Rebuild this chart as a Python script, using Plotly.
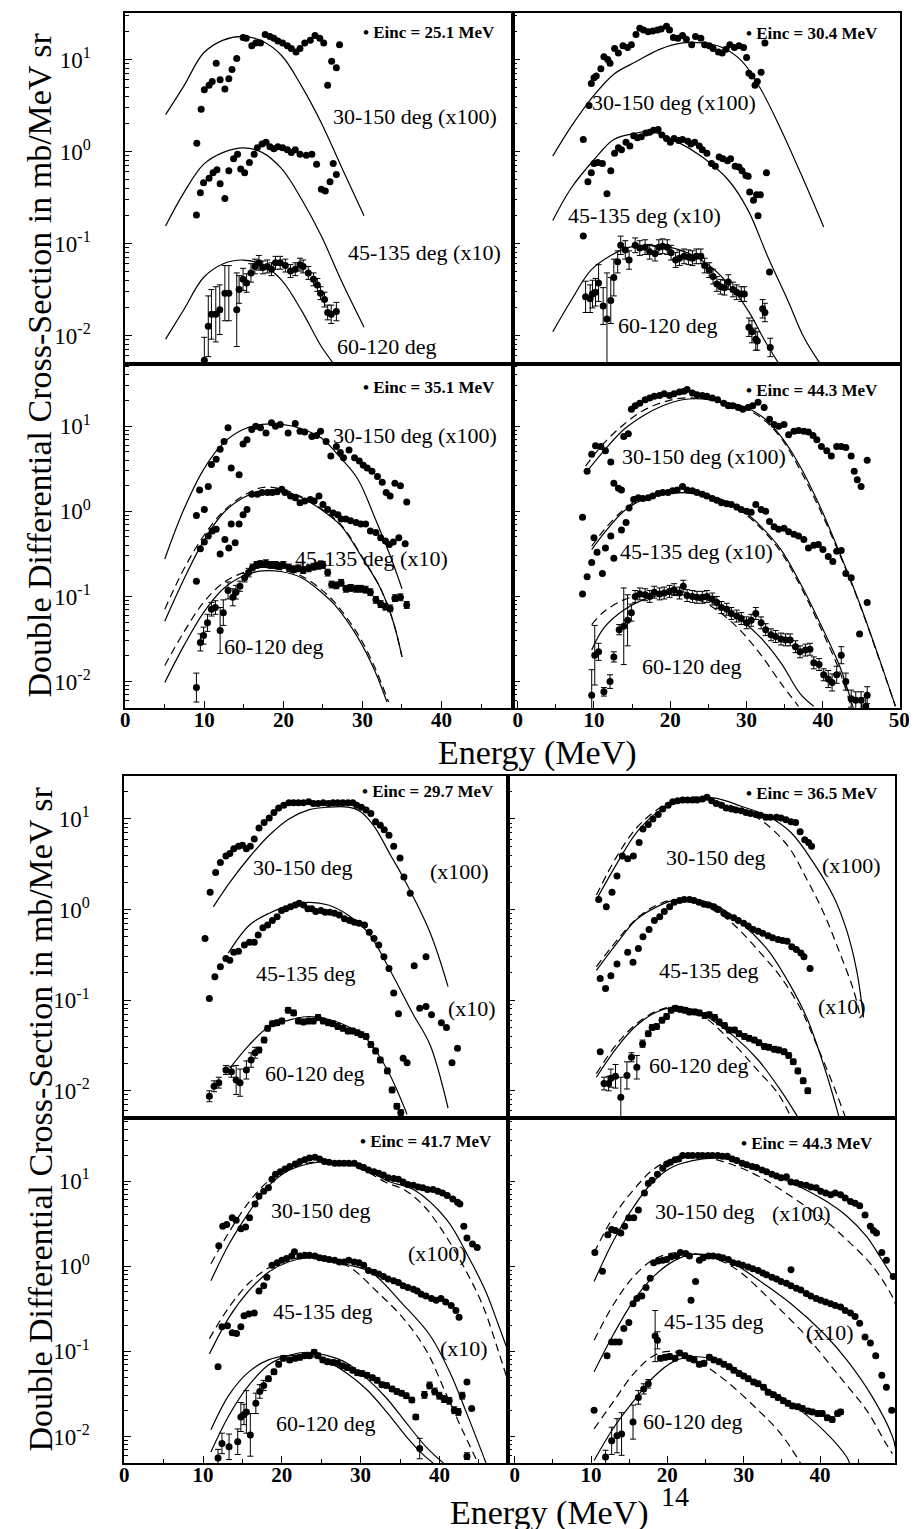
import numpy as np
import plotly.graph_objects as go

W, H = 917, 1529
SERIF = "Liberation Serif, Times New Roman, serif"

# ---------------- DATA ----------------
# Energies in MeV; values are log10 of the plotted cross-section (mb/MeV sr, already scaled x100 / x10)
# a = 30-150 deg (x100), b = 45-135 deg (x10), c = 60-120 deg (with error bars, half-width in decades)

# Panel TL : Einc = 25.1 MeV
tl_a_E = [9.05,9.6,10.0,10.6,11.0,11.5,12.0,12.6,13.1,13.5,14.1,14.9,15.3,16.0,16.5,17.1,17.7,18.3,18.8,19.3,19.9,20.5,21.0,21.6,22.1,22.7,23.4,24.0,24.6,25.1,25.6,26.1,26.7,27.1]
tl_a_L = [0.09,0.46,0.67,0.72,0.76,0.96,0.78,0.68,0.79,0.89,1.01,1.24,1.23,1.15,1.18,1.18,1.27,1.25,1.23,1.20,1.18,1.15,1.12,1.08,1.12,1.18,1.21,1.26,1.23,1.18,0.72,0.98,0.91,1.16]
tl_b_E = [9.0,9.5,9.9,10.6,11.1,11.6,12.0,12.6,13.1,13.7,14.2,14.6,15.1,15.7,16.3,16.7,17.3,17.8,18.3,18.8,19.3,19.9,20.5,21.0,21.5,22.1,22.9,23.6,24.2,24.8,25.3,25.9,26.3,26.7]
tl_b_L = [-0.69,-0.45,-0.34,-0.29,-0.23,-0.20,-0.35,-0.51,-0.21,-0.08,-0.03,-0.19,-0.23,-0.12,-0.03,0.04,0.08,0.10,0.05,0.03,0.05,0.04,0.02,-0.01,0.02,-0.03,-0.04,-0.03,-0.14,-0.41,-0.43,-0.33,-0.13,-0.25]
tl_c_E = [10.0,10.5,10.9,11.45,11.95,12.6,13.1,14.1,14.4,14.9,15.35,15.9,16.4,16.9,17.4,17.97,18.5,19.0,19.6,20.25,20.9,21.5,22.1,22.5,23.15,23.8,24.3,24.7,25.2,25.6,26.05,26.7]
tl_c_L = [-2.27,-1.90,-1.77,-1.77,-1.72,-1.54,-1.54,-1.72,-1.50,-1.39,-1.43,-1.32,-1.25,-1.21,-1.26,-1.25,-1.28,-1.21,-1.21,-1.24,-1.30,-1.28,-1.23,-1.25,-1.32,-1.39,-1.45,-1.54,-1.61,-1.75,-1.77,-1.74]
tl_c_err = [0.25,0.33,0.27,0.30,0.27,0.30,0.30,0.40,0.15,0.12,0.10,0.10,0.08,0.08,0.07,0.07,0.07,0.07,0.07,0.07,0.07,0.07,0.07,0.07,0.07,0.07,0.07,0.07,0.08,0.08,0.10,0.10]
tl_fa_E = [5.1,7.4,9.9,12.4,14.9,17.3,19.8,22.3,24.8,27.3,30.2]
tl_fa_L = [0.40,0.71,1.07,1.21,1.25,1.20,1.04,0.71,0.31,-0.16,-0.70]
tl_fb_E = [5.1,7.4,9.9,12.4,14.9,17.3,19.8,22.3,24.8,27.3,30.2]
tl_fb_L = [-0.81,-0.45,-0.14,-0.01,0.04,-0.01,-0.19,-0.52,-0.92,-1.40,-1.91]
tl_fc_E = [5.1,7.4,9.9,12.4,14.9,17.3,19.8,22.3,24.8,26.3]
tl_fc_L = [-2.04,-1.72,-1.37,-1.22,-1.18,-1.23,-1.40,-1.73,-2.12,-2.30]

# Panel TR : Einc = 30.4 MeV
tr_a_E = [9.35,9.65,10.0,10.3,10.9,11.3,11.8,12.1,12.7,13.2,13.8,14.4,14.9,15.5,16.0,16.5,17.1,17.7,18.3,18.8,19.5,19.9,20.4,21.0,21.6,22.1,22.8,23.3,24.0,24.5,25.1,25.6,26.3,26.8,27.3,27.8,28.4,29.0,29.6,30.0,30.3,30.7,31.1,31.4,31.9,32.4]
tr_a_L = [0.50,0.74,0.80,0.82,0.90,1.03,1.00,0.96,1.12,1.07,1.15,1.13,1.16,1.27,1.34,1.32,1.30,1.31,1.32,1.33,1.36,1.32,1.24,1.23,1.26,1.22,1.16,1.25,1.23,1.16,1.15,1.12,1.08,1.07,1.11,1.16,1.13,1.15,1.13,1.02,0.85,0.82,0.72,0.76,0.86,1.18]
tr_b_E = [8.6,8.6,9.2,9.65,10.0,10.5,11.1,11.7,12.2,12.7,13.2,13.6,14.2,14.7,15.2,15.7,16.2,16.8,17.3,17.8,18.4,18.9,19.5,20.0,20.5,21.1,21.6,22.3,22.7,23.2,23.8,24.2,24.8,25.4,25.9,26.4,26.9,27.5,27.9,28.5,29.0,29.4,29.9,30.2,30.4,30.9,31.3,31.8,31.5,32.6,33.0]
tr_b_L = [0.13,-0.92,-0.33,-0.23,-0.13,-0.12,-0.13,-0.46,-0.21,-0.02,0.04,0.02,0.10,0.06,0.17,0.15,0.16,0.20,0.21,0.23,0.24,0.18,0.14,0.10,0.14,0.12,0.13,0.11,0.08,0.10,0.06,0.02,-0.02,-0.13,-0.16,-0.06,-0.08,-0.10,-0.08,-0.16,-0.17,-0.21,-0.26,-0.27,-0.44,-0.53,-0.47,-0.47,-0.70,-0.23,-1.31]
tr_c_E = [8.9,9.5,9.8,10.2,10.6,11.2,11.7,12.2,12.6,13.1,13.5,14.1,14.6,15.4,16.0,16.7,17.3,18.0,18.5,19.0,19.6,20.1,20.7,21.2,21.8,22.4,22.9,23.4,24.0,24.5,25.1,25.6,26.1,26.6,27.1,27.6,28.2,28.7,29.3,29.7,30.3,30.7,31.2,31.4,32.1,32.4,33.1]
tr_c_L = [-1.58,-1.60,-1.55,-1.53,-1.43,-1.68,-1.82,-1.62,-1.37,-1.20,-1.02,-1.07,-1.18,-1.02,-1.05,-1.04,-1.09,-1.11,-1.04,-1.03,-1.04,-1.10,-1.18,-1.16,-1.14,-1.15,-1.16,-1.14,-1.14,-1.24,-1.29,-1.36,-1.44,-1.47,-1.48,-1.42,-1.50,-1.53,-1.55,-1.55,-1.91,-1.96,-2.04,-2.06,-1.71,-1.75,-2.13]
tr_c_err = [0.17,0.15,0.15,0.15,0.20,0.20,0.50,0.25,0.20,0.12,0.10,0.10,0.10,0.08,0.08,0.08,0.08,0.08,0.08,0.08,0.08,0.08,0.08,0.08,0.08,0.08,0.08,0.08,0.08,0.08,0.08,0.08,0.08,0.08,0.08,0.08,0.08,0.08,0.08,0.08,0.10,0.12,0.12,0.10,0.10,0.10,0.10]
tr_fa_E = [4.6,7.0,9.6,12.6,15.6,18.6,21.6,24.2,26.8,29.4,31.9,34.5,37.1,40.1]
tr_fa_L = [-0.05,0.27,0.57,0.84,0.98,1.11,1.18,1.18,1.13,0.98,0.67,0.24,-0.24,-0.82]
tr_fb_E = [4.6,7.0,10.0,12.6,15.6,17.3,20.8,24.2,27.6,30.2,32.8,35.4,37.5,39.5]
tr_fb_L = [-0.75,-0.40,-0.09,0.13,0.20,0.22,0.11,-0.06,-0.31,-0.64,-1.15,-1.62,-2.02,-2.29]
tr_fc_E = [4.6,7.0,9.6,12.2,14.7,17.3,19.9,22.5,25.1,27.6,30.2,32.4,34.1]
tr_fc_L = [-1.96,-1.62,-1.29,-1.13,-1.04,-1.02,-1.04,-1.11,-1.24,-1.44,-1.73,-2.06,-2.29]

# Panel ML : Einc = 35.1 MeV
ml_a_E = [9.4,10.5,10.9,11.5,12.0,12.5,13.0,13.4,14.4,14.9,15.4,16.0,16.5,17.1,17.8,18.5,19.0,19.6,20.6,21.5,22.1,22.7,23.6,24.2,24.7,25.4,26.0,26.7,27.2,27.6,28.3,29.0,29.6,30.1,30.6,31.2,31.9,32.5,33.0,33.5,34.1,34.8,35.6]
ml_a_L = [0.25,0.29,0.55,0.61,0.73,0.82,0.98,0.51,0.43,0.79,0.84,0.96,1.00,0.98,0.92,1.04,1.00,1.02,0.92,1.03,0.94,0.93,0.88,0.89,0.94,0.82,0.65,0.76,0.69,0.63,0.72,0.63,0.59,0.54,0.51,0.47,0.41,0.34,0.22,0.18,0.33,0.30,0.11]
ml_b_E = [9.0,9.0,10.0,9.5,10.0,10.5,11.0,11.5,12.0,12.6,13.1,13.4,13.9,14.4,14.9,15.4,16.0,16.7,17.3,18.0,18.6,19.2,19.8,20.2,20.9,21.5,22.1,22.7,23.4,23.9,24.5,25.0,25.6,26.3,26.9,27.3,27.9,28.5,29.2,29.8,30.4,31.0,31.7,32.3,32.9,33.4,33.9,34.6,35.4]
ml_b_L = [-0.82,-0.05,0.02,-0.44,-0.36,-0.29,-0.23,-0.21,-0.50,-0.33,-0.43,-0.15,-0.37,-0.15,-0.04,0.02,0.20,0.20,0.22,0.22,0.22,0.23,0.26,0.22,0.18,0.16,0.10,0.12,0.14,0.12,0.18,0.08,0.02,-0.02,-0.04,-0.09,-0.09,-0.11,-0.13,-0.15,-0.15,-0.23,-0.25,-0.31,-0.35,-0.39,-0.36,-0.31,-0.38]
ml_c_E = [9.0,9.5,9.9,10.4,10.9,11.4,12.0,12.4,13.0,13.6,14.0,14.5,15.1,15.6,16.1,16.6,17.1,17.8,18.4,19.0,19.5,20.0,20.7,21.3,21.9,22.5,23.2,23.8,24.4,25.0,25.6,26.1,26.7,27.3,27.9,28.5,29.2,29.8,30.4,31.0,31.7,32.3,32.9,33.5,34.1,34.8,35.6]
ml_c_L = [-2.07,-1.54,-1.46,-1.31,-1.15,-1.13,-1.40,-1.19,-0.93,-1.01,-0.95,-0.88,-0.78,-0.72,-0.66,-0.63,-0.62,-0.61,-0.63,-0.63,-0.64,-0.63,-0.66,-0.68,-0.67,-0.69,-0.67,-0.65,-0.64,-0.63,-0.72,-0.86,-0.87,-0.84,-0.91,-0.90,-0.91,-0.91,-0.92,-0.95,-1.04,-1.09,-1.12,-1.14,-1.02,-1.01,-1.10]
ml_c_err = [0.17,0.10,0.10,0.10,0.08,0.08,0.27,0.15,0.10,0.10,0.08,0.06,0.05,0.05,0.04,0.04,0.04,0.04,0.04,0.04,0.04,0.04,0.04,0.04,0.04,0.04,0.04,0.04,0.04,0.04,0.04,0.04,0.04,0.04,0.04,0.04,0.04,0.04,0.04,0.04,0.04,0.04,0.04,0.04,0.04,0.04,0.04]
ml_fa_E = [5.0,7.4,9.9,12.4,14.9,17.3,19.8,22.3,24.8,27.3,29.4,31.5,33.5,35.0]
ml_fa_L = [-0.56,0.02,0.49,0.80,0.96,1.02,1.02,0.97,0.86,0.62,0.38,-0.06,-0.52,-0.91]
ml_fb_E = [5.0,7.4,9.9,12.4,14.9,17.3,19.8,22.3,24.8,27.3,29.8,32.3,33.9,35.0]
ml_fb_L = [-1.29,-0.80,-0.35,-0.02,0.16,0.24,0.24,0.16,0.02,-0.17,-0.52,-0.91,-1.30,-1.71]
ml_fb2_L = [-1.15,-0.68,-0.29,0.00,0.18,0.28,0.26,0.17,0.03,-0.16,-0.51,-0.91,-1.30,-1.71]
ml_fc_E = [5.0,7.4,9.9,12.4,14.9,17.3,19.8,22.3,24.8,26.5,29.4,31.5,33.1]
ml_fc_L = [-2.01,-1.58,-1.19,-0.91,-0.76,-0.70,-0.71,-0.78,-0.95,-1.10,-1.48,-1.86,-2.24]
ml_fc2_E = [5.0,7.4,9.9,12.4,14.9,17.3,19.8,22.3,24.8,26.5,29.4,31.5,33.3]
ml_fc2_L = [-1.81,-1.42,-1.07,-0.84,-0.72,-0.66,-0.69,-0.76,-0.92,-1.07,-1.44,-1.82,-2.24]

# Panel MR : Einc = 44.3 MeV
mr_a_E = [9.1,9.7,10.2,10.9,11.5,12.2,12.6,13.2,13.6,13.9,14.5,14.9,15.4,16.0,16.7,17.3,17.9,18.6,19.2,19.9,20.5,21.2,21.8,22.2,22.9,23.5,24.2,24.8,25.5,26.2,27.0,27.6,28.2,28.9,29.5,30.2,30.8,31.5,32.3,33.0,33.6,34.2,34.9,35.5,36.2,36.8,37.5,38.1,38.7,39.2,39.8,40.5,41.1,41.8,42.4,43.0,43.7,44.1,44.5,45.0,45.8]
mr_a_L = [0.47,0.67,0.77,0.76,0.71,0.58,0.33,0.27,0.25,0.88,0.91,1.20,1.24,1.27,1.31,1.33,1.35,1.36,1.38,1.36,1.38,1.40,1.41,1.43,1.39,1.37,1.36,1.35,1.33,1.31,1.27,1.24,1.24,1.22,1.20,1.22,1.24,1.28,1.22,1.08,1.02,1.00,1.02,0.90,0.94,0.95,0.94,0.93,0.89,0.84,0.76,0.71,0.65,0.76,0.76,0.75,0.65,0.47,0.37,0.29,0.60]
mr_b_E = [8.5,8.5,9.1,9.7,10.0,10.4,11.1,11.5,12.2,12.6,13.6,14.2,14.6,15.2,15.8,16.4,17.1,17.7,18.4,19.0,19.7,20.3,20.9,21.6,22.2,22.9,23.5,24.2,24.8,25.5,26.1,26.7,27.4,28.0,28.7,29.3,30.0,30.6,31.2,31.9,32.5,33.0,33.6,34.2,34.9,35.5,36.2,36.8,37.5,38.1,38.8,39.4,40.0,40.7,41.3,41.8,42.4,43.0,43.7,44.8,45.8]
mr_b_L = [-0.07,-0.97,-0.77,-0.60,-0.31,-0.48,-0.73,-0.43,-0.29,-0.55,-0.22,-0.13,0.04,0.14,0.16,0.15,0.16,0.18,0.21,0.22,0.22,0.24,0.25,0.29,0.25,0.24,0.22,0.20,0.18,0.15,0.13,0.10,0.09,0.08,0.05,0.02,0.00,-0.01,0.08,0.02,0.00,-0.12,-0.18,-0.21,-0.20,-0.24,-0.27,-0.29,-0.33,-0.43,-0.40,-0.39,-0.45,-0.53,-0.59,-0.47,-0.46,-0.73,-0.78,-1.44,-1.07]
mr_c_E = [9.7,10.1,10.6,11.3,12.1,12.6,13.3,13.9,14.4,14.9,15.4,16.0,16.7,17.3,17.9,18.6,19.2,19.9,20.5,21.2,21.7,22.2,22.9,23.5,24.2,24.8,25.5,26.1,26.7,27.4,28.0,28.7,29.3,30.0,30.6,31.2,31.9,32.5,33.2,33.8,34.5,35.1,35.7,36.4,37.0,37.7,38.3,38.8,39.5,40.1,40.7,41.2,41.8,42.4,43.0,43.7,44.3,45.0,45.6,45.8]
mr_c_L = [-2.16,-1.69,-1.65,-2.12,-2.00,-1.71,-1.39,-1.35,-1.28,-1.19,-1.00,-0.97,-0.98,-1.00,-0.95,-0.97,-0.96,-0.94,-0.92,-0.96,-0.88,-0.99,-1.00,-1.01,-1.01,-1.00,-1.03,-1.07,-1.13,-1.15,-1.20,-1.23,-1.26,-1.31,-1.28,-1.20,-1.31,-1.39,-1.45,-1.47,-1.50,-1.51,-1.51,-1.59,-1.65,-1.63,-1.62,-1.78,-1.80,-1.92,-1.97,-2.01,-1.92,-1.69,-2.00,-2.20,-2.22,-2.22,-2.29,-2.16]
mr_c_err = [0.30,0.35,0.10,0.05,0.08,0.06,0.06,0.45,0.30,0.10] + [0.07] * 40 + [0.10] * 10
mr_fa_E = [8.9,11.3,13.9,16.4,19.0,21.6,24.2,26.7,29.3,31.9,34.5,37.0,39.6,42.2,44.8,47.3,49.5]
mr_fa_L = [0.45,0.71,0.96,1.12,1.24,1.31,1.32,1.29,1.24,1.12,0.88,0.53,0.06,-0.49,-1.08,-1.71,-2.29]
mr_fa2_L = [0.53,0.80,1.02,1.18,1.28,1.33,1.32,1.28,1.22,1.10,0.86,0.49,0.02,-0.51,-1.09,-1.72,-2.29]
mr_fb_E = [9.7,11.3,13.9,16.4,19.0,21.6,24.2,26.7,29.3,31.9,34.5,37.0,39.6,42.2,43.9]
mr_fb_L = [-0.45,-0.26,0.00,0.14,0.20,0.22,0.20,0.14,0.02,-0.18,-0.45,-0.84,-1.31,-1.82,-2.29]
mr_fb2_L = [-0.41,-0.22,0.02,0.16,0.21,0.22,0.19,0.12,0.00,-0.20,-0.48,-0.87,-1.35,-1.88,-2.36]
mr_fc_E = [9.7,11.3,13.9,16.4,19.0,21.6,24.2,26.7,29.3,31.9,34.5,37.0,38.8]
mr_fc_L = [-1.63,-1.37,-1.16,-1.04,-0.98,-0.98,-1.02,-1.12,-1.28,-1.49,-1.78,-2.14,-2.29]
mr_fc2_E = [9.7,11.3,13.9,16.4,19.0,21.6,24.2,26.7,29.3,31.9,34.5,36.8]
mr_fc2_L = [-1.33,-1.18,-1.04,-0.98,-0.96,-0.99,-1.06,-1.20,-1.41,-1.69,-2.02,-2.29]

# Panel BTL : Einc = 29.7 MeV
btl_a_E = [10.9,11.6,12.2,12.9,13.4,13.9,14.5,15.0,15.5,16.0,16.5,17.1,17.75,18.4,19.0,19.6,20.25,20.9,21.5,22.1,22.75,23.4,24.0,24.6,25.25,25.9,26.5,27.1,27.75,28.4,29.0,29.5,30.1,30.7,31.3,31.9,32.5,33.0,33.6,34.2,35.0,35.5,36.3,36.8,38.3]
btl_a_L = [0.19,0.41,0.52,0.59,0.62,0.67,0.70,0.71,0.67,0.70,0.78,0.90,0.96,1.01,1.07,1.12,1.15,1.18,1.18,1.18,1.18,1.19,1.17,1.17,1.18,1.17,1.18,1.18,1.18,1.18,1.18,1.15,1.13,1.10,1.06,0.97,0.93,0.88,0.82,0.70,0.57,0.36,0.18,-0.62,-0.52]
btl_b_E = [10.25,10.8,11.5,12.2,12.9,13.4,13.9,14.5,15.25,15.9,16.5,17.0,17.6,18.2,18.8,19.4,19.96,20.5,21.1,21.7,22.2,22.75,23.3,23.8,24.3,24.96,25.5,26.1,26.7,27.3,27.96,28.6,29.2,29.8,30.5,31.1,31.7,32.3,32.96,33.6,34.2,34.8,35.4,35.9,37.5,38.3,39.0,40.25,40.9,41.6,42.3]
btl_b_L = [-0.32,-0.98,-0.74,-0.63,-0.54,-0.56,-0.47,-0.46,-0.39,-0.36,-0.36,-0.28,-0.20,-0.17,-0.12,-0.08,-0.01,0.01,0.03,0.05,0.07,0.05,0.01,0.01,-0.02,-0.01,-0.03,-0.03,-0.04,-0.06,-0.10,-0.12,-0.14,-0.15,-0.17,-0.25,-0.32,-0.39,-0.52,-0.65,-0.92,-1.15,-1.64,-1.69,-1.09,-1.07,-1.16,-1.25,-1.30,-1.69,-1.53]
btl_c_E = [10.8,11.4,12.0,12.9,13.6,14.2,14.7,15.5,16.1,16.6,17.1,17.75,18.2,18.8,19.4,20.0,20.8,21.5,22.1,22.75,23.4,24.0,24.6,25.25,25.9,26.5,27.1,27.75,28.4,29.0,29.6,30.1,30.7,31.3,31.9,32.5,33.4,34.0,34.6,35.1]
btl_c_L = [-2.06,-1.95,-1.91,-1.77,-1.79,-1.88,-1.91,-1.77,-1.66,-1.58,-1.55,-1.44,-1.31,-1.26,-1.25,-1.23,-1.11,-1.14,-1.23,-1.24,-1.23,-1.23,-1.19,-1.23,-1.25,-1.26,-1.29,-1.31,-1.34,-1.34,-1.36,-1.38,-1.40,-1.49,-1.56,-1.66,-1.78,-1.99,-2.17,-2.24]
btl_c_err = [0.06,0.06,0.06,0.05,0.06,0.16,0.15,0.10,0.08,0.06] + [0.03] * 30
btl_fa_E = [11.3,13.4,15.9,18.4,20.9,23.4,25.9,28.4,30.0,31.7,33.8,35.5,38.8,41.1]
btl_fa_L = [0.03,0.30,0.58,0.82,1.00,1.10,1.13,1.13,1.08,0.92,0.60,0.34,-0.25,-0.85]
btl_fb_E = [13.2,15.9,18.4,20.9,23.4,25.9,28.4,30.9,33.8,36.7,38.8,41.1]
btl_fb_L = [-0.48,-0.17,-0.04,0.04,0.08,0.05,-0.06,-0.25,-0.68,-1.16,-1.49,-2.19]
btl_fc_E = [13.4,15.9,18.4,20.9,23.4,25.9,28.4,30.9,33.4,35.9]
btl_fc_L = [-1.75,-1.49,-1.29,-1.22,-1.18,-1.21,-1.29,-1.44,-1.77,-2.26]

# Panel BTR : Einc = 36.5 MeV
btr_a_E = [11.0,12.0,12.75,13.4,14.1,14.8,15.55,16.3,16.8,17.5,18.1,18.8,19.4,20.1,20.7,21.35,22.0,22.65,23.3,23.9,24.6,25.2,25.8,26.4,27.1,27.7,28.4,29.0,29.7,30.3,30.9,31.6,32.2,32.9,33.5,34.3,34.9,35.55,36.2,36.8,37.4,38.0,38.5,38.9]
btr_a_L = [0.11,0.03,0.19,0.37,0.59,0.56,0.59,0.74,0.89,0.94,1.00,1.05,1.11,1.15,1.19,1.20,1.21,1.21,1.21,1.21,1.22,1.24,1.20,1.17,1.15,1.12,1.11,1.10,1.09,1.07,1.06,1.05,1.04,1.02,1.02,1.02,1.01,0.99,0.97,0.96,0.86,0.77,0.74,0.70]
btr_b_E = [11.2,11.9,12.6,13.4,14.8,15.5,16.2,16.8,17.6,18.3,19.0,19.6,20.3,20.9,21.6,22.2,22.9,23.5,24.15,24.8,25.4,26.1,26.7,27.4,28.0,28.7,29.3,30.0,30.6,31.25,31.9,32.5,33.2,33.8,34.5,35.1,35.7,36.3,36.9,37.5,37.9,38.7]
btr_b_L = [-0.76,-0.87,-0.73,-0.60,-0.47,-0.58,-0.43,-0.30,-0.22,-0.12,-0.08,-0.02,0.03,0.08,0.10,0.11,0.11,0.10,0.08,0.06,0.05,0.03,0.00,-0.04,-0.07,-0.09,-0.12,-0.15,-0.18,-0.22,-0.24,-0.26,-0.29,-0.31,-0.33,-0.34,-0.35,-0.41,-0.44,-0.48,-0.52,-0.65]
btr_c_E = [11.2,11.7,12.3,12.6,13.2,13.9,14.7,15.3,16.0,16.75,17.5,18.0,18.6,19.3,19.9,20.5,21.05,21.7,22.3,22.9,23.6,24.2,24.9,25.5,26.2,26.8,27.5,28.1,28.8,29.4,30.1,30.7,31.4,32.0,32.7,33.3,34.0,34.6,35.3,35.9,36.5,37.1,37.8,38.4]
btr_c_L = [-1.57,-1.92,-1.92,-1.86,-1.84,-2.07,-1.83,-1.63,-1.74,-1.48,-1.37,-1.30,-1.29,-1.22,-1.18,-1.11,-1.09,-1.10,-1.11,-1.13,-1.13,-1.14,-1.17,-1.16,-1.19,-1.24,-1.28,-1.33,-1.33,-1.37,-1.40,-1.42,-1.44,-1.47,-1.51,-1.52,-1.54,-1.55,-1.57,-1.61,-1.68,-1.78,-1.89,-2.00]
btr_c_err = [0.0,0.07,0.08,0.10,0.13,0.22,0.15,0.05,0.13,0.04] + [0.03] * 34
btr_fa_E = [10.7,13.4,15.95,18.6,21.1,23.7,26.3,29.7,33.2,36.2,39.2,41.8,43.5,44.8,45.7]
btr_fa_L = [0.11,0.51,0.85,1.07,1.19,1.23,1.23,1.14,1.03,0.85,0.51,0.14,-0.23,-0.67,-1.19]
btr_fa2_E = [10.7,13.4,15.95,18.6,21.1,23.7,26.3,29.7,32.7,35.8,38.3,40.5,42.6,44.4,45.2]
btr_fa2_L = [0.16,0.59,0.90,1.10,1.21,1.24,1.20,1.10,0.96,0.70,0.33,-0.04,-0.48,-0.89,-1.15]
btr_fb_E = [10.7,13.4,15.95,18.6,21.1,23.7,26.3,29.7,33.2,36.2,38.3,40.5,42.2,42.6]
btr_fb_L = [-0.67,-0.37,-0.11,0.03,0.11,0.11,0.05,-0.15,-0.45,-0.85,-1.20,-1.72,-2.20,-2.33]
btr_fb2_E = [10.7,13.4,15.95,18.6,21.1,23.7,26.3,28.5,31.9,34.9,37.5,39.6,41.8,43.5]
btr_fb2_L = [-0.63,-0.34,-0.10,0.05,0.11,0.08,-0.02,-0.15,-0.45,-0.75,-1.10,-1.50,-1.95,-2.33]
btr_fc_E = [10.7,13.4,15.95,18.6,21.1,23.7,25.4,28.9,31.9,34.9,37.1]
btr_fc_L = [-1.85,-1.52,-1.28,-1.13,-1.08,-1.11,-1.19,-1.41,-1.66,-2.00,-2.29]
btr_fc2_E = [10.7,13.4,15.95,18.6,21.1,23.7,25.4,28.9,31.9,34.5,36.2]
btr_fc2_L = [-1.81,-1.48,-1.26,-1.12,-1.07,-1.13,-1.22,-1.50,-1.78,-2.03,-2.29]

# Panel BBL : Einc = 41.7 MeV
bbl_a_E = [12.0,12.5,13.0,13.7,14.2,14.8,15.4,15.9,16.6,17.1,17.7,18.3,18.75,19.2,19.8,20.4,21.0,21.7,22.3,22.9,23.5,24.2,24.8,25.4,26.0,26.7,27.3,27.9,28.5,29.2,29.8,30.4,31.0,31.7,32.3,32.9,33.5,34.2,34.8,35.4,36.0,36.7,37.3,37.9,38.5,39.2,39.8,40.4,41.0,41.7,42.3,42.6,43.1,43.5,44.2,44.8]
bbl_a_L = [0.24,0.47,0.49,0.57,0.54,0.44,0.46,0.57,0.73,0.82,0.88,0.92,1.02,1.08,1.11,1.14,1.17,1.20,1.23,1.25,1.27,1.28,1.26,1.23,1.22,1.21,1.21,1.21,1.21,1.21,1.18,1.16,1.13,1.11,1.09,1.07,1.04,1.03,1.02,0.99,0.96,0.95,0.93,0.92,0.90,0.90,0.88,0.86,0.83,0.79,0.75,0.73,0.47,0.33,0.26,0.22]
bbl_b_E = [11.9,12.4,13.1,13.7,14.25,14.8,15.2,15.8,16.5,17.1,17.7,18.1,18.75,19.4,20.0,20.6,21.25,21.6,22.3,22.9,23.5,24.2,24.8,25.4,26.0,26.7,27.3,27.9,28.5,29.2,29.8,30.4,31.0,31.7,32.3,32.9,33.5,34.2,34.8,35.4,36.0,36.7,37.2,37.7,38.3,39.0,39.6,40.2,40.8,41.5,42.1,42.5,43.5,44.1]
bbl_b_L = [-1.18,-0.71,-0.70,-0.78,-0.79,-0.71,-0.58,-0.56,-0.55,-0.29,-0.23,-0.13,0.01,0.04,0.07,0.09,0.12,0.17,0.12,0.13,0.13,0.12,0.10,0.09,0.08,0.07,0.05,0.05,0.07,0.05,0.04,0.01,-0.05,-0.07,-0.09,-0.12,-0.15,-0.17,-0.19,-0.23,-0.25,-0.27,-0.29,-0.33,-0.35,-0.38,-0.40,-0.38,-0.42,-0.46,-0.52,-0.60,-1.36,-1.67]
bbl_c_E = [11.9,12.4,13.3,14.4,14.8,15.2,15.5,16.0,16.7,17.2,17.7,18.3,19.0,19.6,20.2,21.0,21.7,22.3,22.9,23.5,24.1,24.6,25.2,25.8,26.5,27.1,27.7,28.3,29.0,29.6,30.2,30.8,31.5,32.1,32.7,33.3,34.0,34.6,35.2,35.8,36.5,37.0,37.5,38.1,38.75,39.4,40.0,40.6,41.25,41.9,42.4,42.9,43.5]
bbl_c_L = [-2.25,-2.08,-2.12,-2.06,-1.77,-1.74,-1.71,-1.98,-1.61,-1.47,-1.40,-1.32,-1.24,-1.15,-1.08,-1.10,-1.08,-1.07,-1.05,-1.05,-1.01,-1.05,-1.10,-1.12,-1.13,-1.14,-1.17,-1.19,-1.22,-1.25,-1.26,-1.28,-1.31,-1.34,-1.39,-1.40,-1.44,-1.47,-1.49,-1.52,-1.57,-1.77,-2.14,-1.51,-1.40,-1.47,-1.52,-1.56,-1.58,-1.69,-1.71,-1.52,-2.23]
bbl_c_err = [0.10,0.12,0.15,0.15,0.17,0.12,0.25,0.25,0.12,0.08,0.06] + [0.03] * 31 + [0.12] + [0.04] * 10
bbl_fa_E = [11.0,13.3,15.8,18.3,20.8,23.3,25.8,28.3,30.8,33.4,36.7,40.9,43.8,45.9,47.5,48.6]
bbl_fa_L = [-0.17,0.26,0.63,0.94,1.12,1.20,1.23,1.21,1.14,1.00,0.90,0.55,0.09,-0.30,-0.69,-0.97]
bbl_fa2_E = [11.0,13.3,15.8,18.3,20.8,23.3,25.8,28.3,30.8,33.3,35.5,38.0,40.5,43.0,45.5,47.5,48.7]
bbl_fa2_L = [0.03,0.40,0.75,1.00,1.14,1.21,1.23,1.19,1.11,0.98,0.90,0.71,0.40,0.01,-0.46,-1.00,-1.35]
bbl_fb_E = [10.8,13.3,15.8,18.3,20.8,23.3,25.8,28.3,31.3,35.5,38.8,41.3,43.4,46.0]
bbl_fb_L = [-1.03,-0.60,-0.29,-0.07,0.05,0.10,0.08,0.02,-0.07,-0.46,-0.81,-1.24,-1.71,-2.33]
bbl_fb2_E = [10.8,13.3,15.8,18.3,20.8,23.3,25.8,28.4,32.1,35.5,38.4,40.9,43.0,45.0]
bbl_fb2_L = [-0.85,-0.48,-0.20,-0.02,0.08,0.10,0.06,0.00,-0.30,-0.62,-1.00,-1.51,-1.94,-2.33]
bbl_fc_E = [11.0,13.3,15.8,18.3,20.8,23.3,25.8,28.3,30.8,33.3,35.8,38.3,40.5]
bbl_fc_L = [-2.18,-1.75,-1.40,-1.16,-1.05,-1.01,-1.05,-1.14,-1.32,-1.55,-1.84,-2.12,-2.31]
bbl_fc2_E = [11.0,13.3,15.8,18.3,20.8,23.3,25.8,28.3,30.8,33.3,35.8,37.8,39.2]
bbl_fc2_L = [-1.92,-1.51,-1.24,-1.10,-1.05,-1.05,-1.12,-1.26,-1.45,-1.71,-2.00,-2.20,-2.31]

# Panel BBR : Einc = 44.3 MeV
bbr_a_E = [10.5,11.5,12.2,12.7,13.2,13.9,14.4,14.95,15.6,16.2,17.0,17.5,18.0,18.7,19.4,19.9,20.4,21.0,21.5,22.0,22.7,23.3,24.0,24.6,25.3,25.9,26.6,27.2,27.85,28.5,29.1,29.8,30.4,31.1,31.7,32.4,33.0,33.7,34.3,34.9,35.6,36.2,36.9,37.5,38.2,38.8,39.5,40.1,40.75,41.4,42.0,42.7,43.3,44.0,44.6,45.2,45.9,46.6,47.0,47.4,48.1,48.7,49.6]
bbr_a_L = [0.16,-0.06,0.37,0.43,0.42,0.39,0.47,0.57,0.57,0.66,0.86,0.97,1.01,1.08,1.15,1.20,1.22,1.25,1.26,1.30,1.30,1.30,1.30,1.30,1.30,1.30,1.30,1.29,1.29,1.26,1.24,1.21,1.19,1.17,1.16,1.13,1.11,1.08,1.06,1.04,1.05,0.99,0.98,0.96,0.95,0.93,0.92,0.88,0.86,0.84,0.86,0.84,0.80,0.76,0.74,0.71,0.60,0.47,0.42,0.39,0.16,0.07,-0.12]
bbr_b_E = [12.1,12.7,13.2,13.7,14.3,14.95,15.5,16.0,16.65,17.2,17.75,18.2,18.8,19.4,19.9,20.5,21.2,21.7,22.4,22.9,23.1,23.7,24.2,24.7,25.4,26.0,26.7,27.3,28.0,28.6,29.3,29.9,30.6,31.2,31.9,32.5,33.0,33.7,34.3,34.9,35.6,36.2,36.2,36.9,37.5,38.2,38.8,39.5,40.1,40.75,41.4,42.0,42.7,43.3,44.0,44.6,45.2,45.9,46.6,47.3,48.1,48.7,49.4]
bbr_b_L = [-1.05,-0.89,-0.89,-0.89,-0.73,-0.66,-0.44,-0.38,-0.35,-0.25,-0.14,0.04,0.06,0.07,0.08,0.11,0.12,0.16,0.15,0.12,-0.40,-0.18,0.07,0.10,0.12,0.12,0.11,0.10,0.08,0.04,0.03,0.01,-0.01,-0.03,-0.05,-0.08,-0.10,-0.13,-0.15,-0.18,-0.20,-0.04,-0.23,-0.26,-0.28,-0.32,-0.35,-0.38,-0.40,-0.42,-0.44,-0.46,-0.48,-0.52,-0.55,-0.59,-0.67,-0.83,-0.90,-1.05,-1.28,-1.42,-1.69]
bbr_c_E = [10.4,11.9,12.7,13.4,14.0,15.5,16.2,16.9,17.5,18.4,18.7,19.1,19.7,20.3,21.0,21.6,22.3,22.9,23.5,24.2,24.8,25.5,26.1,26.8,27.4,28.1,28.7,29.4,30.0,30.6,31.3,31.9,32.6,33.2,33.9,34.5,35.2,35.8,36.4,37.1,37.7,38.4,39.0,39.7,40.3,40.96,41.6,42.3,42.7]
bbr_c_L = [-1.69,-2.24,-2.05,-1.99,-1.97,-1.83,-1.54,-1.44,-1.38,-0.82,-0.87,-1.08,-1.07,-1.06,-1.08,-1.02,-1.05,-1.08,-1.10,-1.15,-1.14,-1.07,-1.10,-1.12,-1.15,-1.18,-1.22,-1.26,-1.29,-1.32,-1.36,-1.38,-1.42,-1.48,-1.51,-1.54,-1.58,-1.61,-1.64,-1.65,-1.67,-1.70,-1.71,-1.73,-1.73,-1.78,-1.80,-1.73,-1.71]
bbr_c_err = [0.0,0.08,0.16,0.20,0.25,0.20,0.08,0.06,0.05,0.30,0.10] + [0.03] * 38
bbr_fa_E = [10.4,13.0,15.6,18.2,20.8,23.3,25.9,27.6,31.9,36.2,40.5,43.5,46.1,47.8,49.5]
bbr_fa_L = [-0.18,0.31,0.70,1.00,1.17,1.24,1.27,1.26,1.14,0.98,0.78,0.59,0.35,0.12,-0.12]
bbr_fa2_E = [10.4,13.0,15.6,18.2,20.8,23.3,27.6,31.9,36.2,40.5,43.5,46.9,49.5,49.9]
bbr_fa2_L = [0.16,0.59,0.90,1.14,1.26,1.30,1.22,1.06,0.82,0.55,0.31,0.00,-0.36,-0.45]
bbr_fb_E = [10.4,13.0,15.6,18.2,20.8,23.3,27.6,31.9,36.2,40.5,43.5,46.9,49.5,49.9]
bbr_fb_L = [-1.24,-0.79,-0.40,-0.12,0.06,0.14,0.08,-0.16,-0.44,-0.79,-1.10,-1.54,-2.00,-2.14]
bbr_fb2_E = [10.4,13.0,15.6,18.2,21.2,24.0,27.6,29.7,34.0,38.3,42.6,46.1,48.7,49.5]
bbr_fb2_L = [-0.87,-0.44,-0.12,0.08,0.16,0.14,0.04,-0.08,-0.44,-0.83,-1.30,-1.69,-2.09,-2.20]
bbr_fc_E = [10.4,13.0,15.6,18.2,20.8,23.3,27.6,31.9,36.2,40.5,43.5,43.9]
bbr_fc_L = [-2.28,-1.89,-1.58,-1.30,-1.12,-1.06,-1.14,-1.38,-1.61,-1.93,-2.24,-2.32]
bbr_fc2_E = [10.4,13.0,15.6,18.2,20.3,23.3,27.6,31.9,34.9,37.5]
bbr_fc2_L = [-1.91,-1.58,-1.26,-1.05,-1.00,-1.08,-1.34,-1.69,-1.97,-2.32]

# incident energies (MeV) shown in each panel
einc = {"tl": "25.1", "tr": "30.4", "ml": "35.1", "mr": "44.3",
        "btl": "29.7", "btr": "36.5", "bbl": "41.7", "bbr": "44.3"}

# ---------------- LAYOUT HELPERS ----------------
def fx(p):
    return p / W

def fy(p):
    return 1 - p / H

panels = [
    dict(k="tl", dx=(114, 508), dy=(5, 356), xr=(0, 49.07), yr=(-2.31, 1.505), left=True, bottom=False,
         a=(tl_a_E, tl_a_L), b=(tl_b_E, tl_b_L), c=(tl_c_E, tl_c_L, tl_c_err),
         fits=[(tl_fa_E, tl_fa_L, False), (tl_fb_E, tl_fb_L, False), (tl_fc_E, tl_fc_L, False)],
         labels=[("30-150 deg (x100)", 408, 108), ("45-135 deg (x10)", 418, 245), ("60-120 deg", 380, 338)],
         ein=(492, 25)),
    dict(k="tr", dx=(508, 901), dy=(5, 356), xr=(-0.58, 50.13), yr=(-2.31, 1.505), left=False, bottom=False,
         a=(tr_a_E, tr_a_L), b=(tr_b_E, tr_b_L), c=(tr_c_E, tr_c_L, tr_c_err),
         fits=[(tr_fa_E, tr_fa_L, False), (tr_fb_E, tr_fb_L, False), (tr_fc_E, tr_fc_L, False)],
         labels=[("30-150 deg (x100)", 671, 95), ("45-135 deg (x10)", 641, 207), ("60-120 deg", 665, 318)],
         ein=(880, 26)),
    dict(k="ml", dx=(114, 508), dy=(356, 700), xr=(0, 49.07), yr=(-2.31, 1.73), left=True, bottom=True,
         a=(ml_a_E, ml_a_L), b=(ml_b_E, ml_b_L), c=(ml_c_E, ml_c_L, ml_c_err),
         fits=[(ml_fa_E, ml_fa_L, False), (ml_fb_E, ml_fb_L, False), (ml_fb_E, ml_fb2_L, True),
               (ml_fc_E, ml_fc_L, False), (ml_fc2_E, ml_fc2_L, True)],
         labels=[("30-150 deg (x100)", 408, 428), ("45-135 deg (x10)", 364, 550), ("60-120 deg", 265, 638)],
         ein=(492, 380)),
    dict(k="mr", dx=(508, 901), dy=(356, 700), xr=(-0.58, 50.13), yr=(-2.31, 1.73), left=False, bottom=True,
         a=(mr_a_E, mr_a_L), b=(mr_b_E, mr_b_L), c=(mr_c_E, mr_c_L, mr_c_err),
         fits=[(mr_fa_E, mr_fa_L, False), (mr_fa_E, mr_fa2_L, True), (mr_fb_E, mr_fb_L, False),
               (mr_fb_E, mr_fb2_L, True), (mr_fc_E, mr_fc_L, False), (mr_fc2_E, mr_fc2_L, True)],
         labels=[("30-150 deg (x100)", 702, 448), ("45-135 deg (x10)", 694, 543), ("60-120 deg", 690, 658)],
         ein=(880, 382)),
    dict(k="btl", dx=(113, 503), dy=(768, 1110), xr=(0, 48.75), yr=(-2.30, 1.474), left=True, bottom=False,
         a=(btl_a_E, btl_a_L), b=(btl_b_E, btl_b_L), c=(btl_c_E, btl_c_L, btl_c_err),
         fits=[(btl_fa_E, btl_fa_L, False), (btl_fb_E, btl_fb_L, False), (btl_fc_E, btl_fc_L, False)],
         labels=[("30-150 deg", 295, 859), ("(x100)", 453, 863), ("45-135 deg", 298, 965),
                 ("(x10)", 466, 1000), ("60-120 deg", 307, 1065)],
         ein=(490, 783)),
    dict(k="btr", dx=(503, 896), dy=(768, 1110), xr=(-0.84, 49.87), yr=(-2.30, 1.474), left=False, bottom=False,
         a=(btr_a_E, btr_a_L), b=(btr_b_E, btr_b_L), c=(btr_c_E, btr_c_L, btr_c_err),
         fits=[(btr_fa_E, btr_fa_L, False), (btr_fa2_E, btr_fa2_L, True), (btr_fb_E, btr_fb_L, False),
               (btr_fb2_E, btr_fb2_L, True), (btr_fc_E, btr_fc_L, False), (btr_fc2_E, btr_fc2_L, True)],
         labels=[("30-150 deg", 714, 850), ("(x100)", 851, 857), ("45-135 deg", 707, 962),
                 ("(x10)", 842, 998), ("60-120 deg", 697, 1057)],
         ein=(880, 785)),
    dict(k="bbl", dx=(113, 503), dy=(1110, 1455), xr=(0, 48.75), yr=(-2.31, 1.74), left=True, bottom=True,
         a=(bbl_a_E, bbl_a_L), b=(bbl_b_E, bbl_b_L), c=(bbl_c_E, bbl_c_L, bbl_c_err),
         fits=[(bbl_fa_E, bbl_fa_L, False), (bbl_fa2_E, bbl_fa2_L, True), (bbl_fb_E, bbl_fb_L, False),
               (bbl_fb2_E, bbl_fb2_L, True), (bbl_fc_E, bbl_fc_L, False), (bbl_fc2_E, bbl_fc2_L, False)],
         labels=[("30-150 deg", 313, 1202), ("(x100)", 431, 1245), ("45-135 deg", 315, 1303),
                 ("(x10)", 458, 1340), ("60-120 deg", 318, 1415)],
         ein=(488, 1133)),
    dict(k="bbr", dx=(503, 896), dy=(1110, 1455), xr=(-0.84, 49.87), yr=(-2.31, 1.74), left=False, bottom=True,
         a=(bbr_a_E, bbr_a_L), b=(bbr_b_E, bbr_b_L), c=(bbr_c_E, bbr_c_L, bbr_c_err),
         fits=[(bbr_fa_E, bbr_fa_L, False), (bbr_fa2_E, bbr_fa2_L, True), (bbr_fb_E, bbr_fb_L, False),
               (bbr_fb2_E, bbr_fb2_L, True), (bbr_fc_E, bbr_fc_L, False), (bbr_fc2_E, bbr_fc2_L, True)],
         labels=[("30-150 deg", 703, 1203), ("(x100)", 801, 1205), ("45-135 deg", 712, 1313),
                 ("(x10)", 830, 1324), ("60-120 deg", 691, 1413)],
         ein=(875, 1135)),
]


def pair(E, L):
    n = min(len(E), len(L))
    return np.array(E[:n], float), np.power(10.0, np.array(L[:n], float))


fig = go.Figure()
annotations = []
MARK = dict(size=7, color="black", symbol="circle")
minor_y = [m * 10.0 ** k for k in range(-3, 2) for m in range(2, 10)]

for i, p in enumerate(panels, start=1):
    xa = "x" if i == 1 else f"x{i}"
    ya = "y" if i == 1 else f"y{i}"

    for key in ("a", "b"):
        x, y = pair(*p[key])
        fig.add_trace(go.Scatter(x=x, y=y, mode="markers", marker=MARK, xaxis=xa, yaxis=ya,
                                 hoverinfo="skip"))
    cE, cL, cErr = p["c"]
    x, y = pair(cE, cL)
    d = np.array((list(cErr) + [0.04] * len(x))[:len(x)], float)
    fig.add_trace(go.Scatter(
        x=x, y=y, mode="markers", marker=MARK, xaxis=xa, yaxis=ya, hoverinfo="skip",
        error_y=dict(type="data", symmetric=False, array=y * (10 ** d - 1), arrayminus=y * (1 - 10 ** (-d)),
                     color="black", thickness=1, width=3)))

    for fE, fL, dashed in p["fits"]:
        x, y = pair(fE, fL)
        fig.add_trace(go.Scatter(
            x=x, y=y, mode="lines", xaxis=xa, yaxis=ya, hoverinfo="skip",
            line=dict(color="black", width=1.2, shape="spline", smoothing=1.0,
                      dash="8px,5px" if dashed else "solid")))

    # axes
    xkey = "xaxis" if i == 1 else f"xaxis{i}"
    ykey = "yaxis" if i == 1 else f"yaxis{i}"
    xlay = dict(domain=[fx(p["dx"][0]), fx(p["dx"][1])], range=list(p["xr"]), anchor=ya,
                showgrid=False, zeroline=False, showline=True, linecolor="black", linewidth=1.8,
                mirror=True)
    if p["bottom"]:
        xlay.update(ticks="inside", ticklen=7, tickwidth=1.2, tickcolor="black",
                    tickvals=[0, 10, 20, 30, 40, 50], ticktext=["0", "10", "20", "30", "40", "50"],
                    showticklabels=True, ticklabelstandoff=-8,
                    tickfont=dict(family=SERIF, size=21, color="black", weight="bold"),
                    minor=dict(ticks="inside", ticklen=4, tickcolor="black", tickvals=[5, 15, 25, 35, 45]))
    else:
        xlay.update(ticks="", showticklabels=False)
    ylay = dict(type="log", domain=[fy(p["dy"][1]), fy(p["dy"][0])], range=list(p["yr"]), anchor=xa,
                showgrid=False, zeroline=False, showline=True, linecolor="black", linewidth=1.8,
                mirror=True, ticks="inside", ticklen=7, tickwidth=1.2, tickcolor="black",
                tickvals=[0.01, 0.1, 1, 10],
                ticktext=["10<sup>-2</sup>", "10<sup>-1</sup>", "10<sup>0</sup>", "10<sup>1</sup>"],
                showticklabels=p["left"], ticklabelstandoff=28,
                tickfont=dict(family=SERIF, size=23, color="black"),
                minor=dict(ticks="inside", ticklen=4, tickcolor="black", tickvals=minor_y))
    fig.update_layout({xkey: xlay, ykey: ylay})

    for txt, cx, cy in p["labels"]:
        annotations.append(dict(text=txt, x=fx(cx), y=fy(cy), xref="paper", yref="paper",
                                xanchor="center", yanchor="middle", showarrow=False,
                                font=dict(family=SERIF, size=22, color="black")))
    ex, ey = p["ein"]
    annotations.append(dict(text="\u2022 Einc = " + einc[p["k"]] + " MeV", x=fx(ex), y=fy(ey),
                            xref="paper", yref="paper", xanchor="right", yanchor="middle",
                            showarrow=False, font=dict(family=SERIF, size=17, color="black", weight="bold")))

# figure-level titles
for cx, cy in [(533, 745), (545, 1505)]:
    annotations.append(dict(text="Energy (MeV)", x=fx(cx), y=fy(cy), xref="paper", yref="paper",
                            xanchor="center", yanchor="middle", showarrow=False,
                            font=dict(family=SERIF, size=34, color="black")))
for cy in (357, 1111):
    annotations.append(dict(text="Double Differential Cross-Section in mb/MeV sr", x=fx(27), y=fy(cy),
                            xref="paper", yref="paper", xanchor="center", yanchor="middle",
                            textangle=-90, showarrow=False,
                            font=dict(family=SERIF, size=34, color="black")))
# page number printed under the figure (it overlaps the "20" tick label in the original too)
annotations.append(dict(text="14", x=fx(672), y=fy(1488), xref="paper", yref="paper",
                        xanchor="center", yanchor="middle", showarrow=False,
                        font=dict(family=SERIF, size=28, color="black")))

fig.update_layout(width=W, height=H, margin=dict(l=0, r=0, t=0, b=0),
                  paper_bgcolor="white", plot_bgcolor="white", showlegend=False,
                  annotations=annotations)

fig.write_html("out.html")
